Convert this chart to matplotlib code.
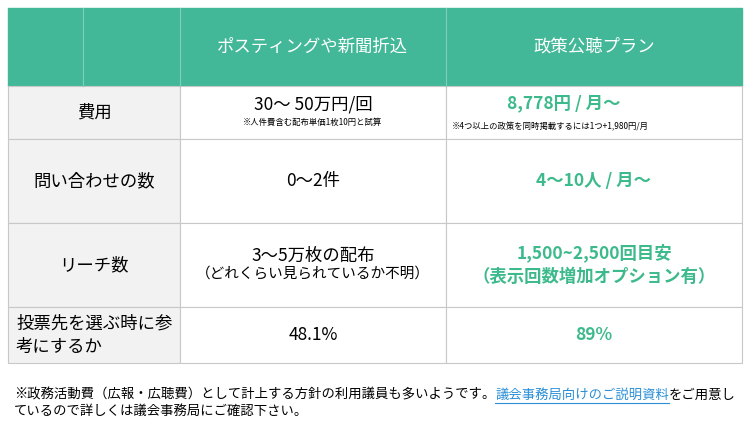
import matplotlib.pyplot as plt
from matplotlib.patches import Rectangle

plt.rcParams['font.family'] = ['Noto Sans CJK JP', 'DejaVu Sans']

headers = ['ポスティングや新聞折込', '政策公聴プラン']
row_labels = ['費用', '問い合わせの数', 'リーチ数', '投票先を選ぶ時に参\n考にするか']
posting_main = ['30〜 50万円/回', '0〜2件', '3〜5万枚の配布', '48.1%']
posting_note = ['※人件費含む配布単価1枚10円と試算', '', '（どれくらい見られているか不明）', '']
plan_main = ['8,778円 / 月〜', '4〜10人 / 月〜', '1,500~2,500回目安\n（表示回数増加オプション有）', '89%']
plan_note = ['※4つ以上の政策を同時掲載するには1つ+1,980円/月', '', '', '']
foot_parts = ['※政務活動費（広報・広聴費）として計上する方針の利用議員も多いようです。',
              '議会事務局向けのご説明資料', 'をご用意し']
foot_line2 = 'ているので詳しくは議会事務局にご確認下さい。'

GREEN = '#42b899'
TXT_GREEN = '#3dba8c'
LINK = '#2a8fd6'
LINE = '#c8c8c8'

fig = plt.figure(figsize=(7.52, 4.25), dpi=100)
ax = fig.add_axes([0, 0, 1, 1])
ax.set_xlim(0, 752)
ax.set_ylim(425, 0)
ax.axis('off')

x0, x1, x2, x3 = 8, 180, 446, 742
row_y = [8, 86, 139, 223, 307, 363]

# header
ax.add_patch(Rectangle((x0, row_y[0]), x3 - x0, row_y[1] - row_y[0], color=GREEN))
for x in [83, x1, x2]:
    ax.plot([x, x], [row_y[0], row_y[1]], color='#7fcfb8', lw=0.8)
hy = (row_y[0] + row_y[1]) / 2
ax.text((x1 + x2) / 2, hy, headers[0], color='white', fontsize=12.5, ha='center', va='center')
ax.text((x2 + x3) / 2, hy, headers[1], color='white', fontsize=12.5, ha='center', va='center')

for i in range(4):
    top, bot = row_y[i + 1], row_y[i + 2]
    cy = (top + bot) / 2
    ax.add_patch(Rectangle((x0, top), x1 - x0, bot - top, facecolor='#f2f2f2', edgecolor=LINE, lw=0.8))
    ax.add_patch(Rectangle((x1, top), x2 - x1, bot - top, facecolor='white', edgecolor=LINE, lw=0.8))
    ax.add_patch(Rectangle((x2, top), x3 - x2, bot - top, facecolor='white', edgecolor=LINE, lw=0.8))
    if i == 3:
        ax.text(16, cy, row_labels[i], fontsize=12.5, ha='left', va='center', linespacing=1.4)
    else:
        ax.text((x0 + x1) / 2, cy, row_labels[i], fontsize=12.5, ha='center', va='center')
    xm = (x1 + x2) / 2
    if posting_note[i]:
        fs = 6 if i == 0 else 10.5
        up = 8 if i == 0 else 9
        dn = 10 if i == 0 else 9
        ax.text(xm, cy - up, posting_main[i], fontsize=12.5, ha='center', va='center')
        ax.text(xm, cy + dn, posting_note[i], fontsize=fs, ha='center', va='center')
    else:
        ax.text(xm, cy, posting_main[i], fontsize=12.5, ha='center', va='center')
    xm2 = (x2 + x3) / 2
    if plan_note[i]:
        ax.text(xm2 - 30, cy - 9, plan_main[i], fontsize=12.5, color=TXT_GREEN, weight='bold', ha='center', va='center')
        ax.text(452, cy + 14, plan_note[i], fontsize=6, ha='left', va='center')
    else:
        ax.text(xm2, cy, plan_main[i], fontsize=12.5, color=TXT_GREEN, weight='bold', ha='center', va='center', linespacing=1.4)

# footnote placed piece by piece
fig.canvas.draw()
r = fig.canvas.get_renderer()
inv = ax.transData.inverted()
x = 14
for k, part in enumerate(foot_parts):
    t = ax.text(x, 395, part, fontsize=9.6, va='center', color=LINK if k == 1 else 'black')
    bb = t.get_window_extent(r)
    x_end = inv.transform((bb.x1, bb.y0))[0]
    if k == 1:
        ax.plot([x, x_end], [403, 403], color=LINK, lw=0.8)
    x = x_end
ax.text(14, 411, foot_line2, fontsize=9.6, va='center')

fig.savefig('out.png', dpi=100)
